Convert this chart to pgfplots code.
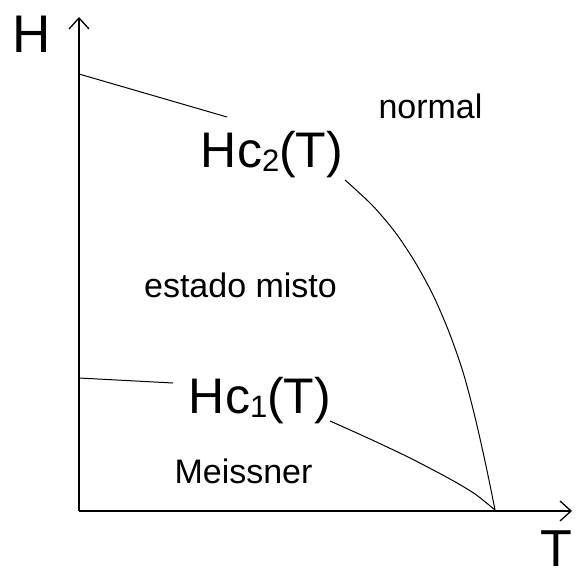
\documentclass[border=0pt]{standalone}
\usepackage{pgfplots}
\pgfplotsset{compat=1.18}
\usepackage{fontspec}
\setmainfont{Liberation Sans}
\usetikzlibrary{arrows.meta}
\newcommand{\fs}[1]{\fontsize{#1bp}{#1bp}\selectfont}
\newcommand{\Hc}[1]{\fs{50}Hc\raisebox{-4bp}{\fs{31}#1}(T)}
\begin{document}
\begin{tikzpicture}
\begin{axis}[
  scale only axis, width=576bp, height=572bp,
  xmin=0, xmax=576, ymin=0, ymax=572, y dir=reverse,
  axis lines=none, clip=false,
]
% axes
\addplot[black, line width=1.3bp, -{Straight Barb[length=11bp,width=20bp]}] coordinates {(79,511) (79,17)};
\addplot[black, line width=1.3bp, -{Straight Barb[length=11bp,width=20bp]}] coordinates {(79,511) (572,511)};
% Hc2
\addplot[black, line width=1bp] coordinates {(79,74) (227,117)};
\addplot[black, line width=1bp, smooth] coordinates {(345,180) (372,205) (395,232) (415,262) (433,295) (449,332) (463,372) (474,413) (483,452) (490,485) (495,510)};
% Hc1
\addplot[black, line width=1bp, smooth] coordinates {(79,378) (173,383)};
\addplot[black, line width=1bp, smooth] coordinates {(330,421) (370,439) (410,458) (450,479) (475,494) (495,510)};
% labels
\node[anchor=base, inner sep=0] at (axis cs:32,53) {\fs{53}H};
\node[anchor=base west, inner sep=0] at (axis cs:540,566) {\fs{52}T};
\node[anchor=base, inner sep=0] at (axis cs:272,167) {\Hc{2}};
\node[anchor=base, inner sep=0] at (axis cs:260,413) {\Hc{1}};
\node[anchor=base, inner sep=0] at (axis cs:430.5,118) {\fs{34}normal};
\node[anchor=base, inner sep=0] at (axis cs:240.5,297) {\fs{34}estado misto};
\node[anchor=base, inner sep=0] at (axis cs:243.5,483) {\fs{34}Meissner};
\end{axis}
\pgfresetboundingbox
\path[use as bounding box] (0,0) rectangle (576bp,572bp);
\end{tikzpicture}
\end{document}
